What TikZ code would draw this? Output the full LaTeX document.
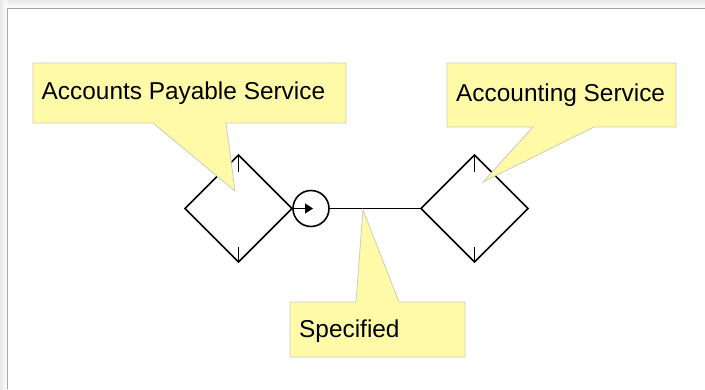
\documentclass[tikz,border=0pt]{standalone}
\usepackage{fontspec}
\setmainfont{Liberation Sans}
\usetikzlibrary{arrows.meta}
\definecolor{callfill}{RGB}{255,250,168}
\definecolor{callline}{RGB}{205,205,185}
\definecolor{pageline}{RGB}{165,165,165}
\tikzset{
  callout/.style={fill=callfill, draw=callline, line width=0.8pt, line join=miter},
  calltext/.style={anchor=base west, inner sep=0pt, font=\fontsize{24.4}{27}\selectfont},
  shape line/.style={line width=1.6pt, black},
}
\begin{document}
\begin{tikzpicture}[x=1pt,y=-1pt]
\useasboundingbox (0,0) rectangle (705,389);
% page background / shadow
\fill[white] (0,0) rectangle (705,389);
\shade[top color=gray!18, bottom color=white] (0,0) rectangle (705,8);
\shade[left color=gray!18, right color=white] (0,0) rectangle (7,389);
\draw[pageline, line width=1.6pt] (7.5,389) -- (7.5,8.5) -- (705,8.5);

% left diamond
\coordinate (Lt) at (238.5,155);
\coordinate (Lb) at (238.5,262);
\coordinate (Ll) at (185,208.5);
\coordinate (Lr) at (292,208.5);
\draw[shape line] (Lt) -- (Lr) -- (Lb) -- (Ll) -- cycle;
\coordinate (Lt2) at (238.5,172);
\coordinate (Lb2) at (238.5,247);
\draw[shape line] (Lt) -- (Lt2);
\draw[shape line] (Lb2) -- (Lb);

% right diamond
\coordinate (Rt) at (474.5,155);
\coordinate (Rb) at (474.5,262);
\coordinate (Rl) at (421,208.5);
\coordinate (Rr) at (528,208.5);
\draw[shape line] (Rt) -- (Rr) -- (Rb) -- (Rl) -- cycle;
\coordinate (Rt2) at (474.5,172);
\coordinate (Rb2) at (474.5,247);
\draw[shape line] (Rt) -- (Rt2);
\draw[shape line] (Rb2) -- (Rb);

% circle port
\node[draw, circle, line width=1.6pt, minimum size=36pt, inner sep=0pt] (port) at (311,208.5) {};
\coordinate (tip) at (313,208.5);
\draw[shape line, -{Triangle[length=8pt,width=10pt]}] (Lr) -- (tip);
\draw[shape line] (port.east) -- (Rl);

% callouts
\draw[callout] (33,63) -- (346,63) -- (346,123) -- (226,123) -- (235,191) -- (153,123) -- (33,123) -- cycle;
\node[calltext] (t1) at (41.5,99.5) {Accounts Payable Service};

\draw[callout] (447,63) -- (676,63) -- (676,127) -- (594,127) -- (483,182) -- (533,127) -- (447,127) -- cycle;
\node[calltext] (t2) at (456,101) {Accounting Service};

\draw[callout] (290,302) -- (356,302) -- (363,210) -- (399,302) -- (465,302) -- (465,357) -- (290,357) -- cycle;
\node[calltext] (t3) at (299,337) {Specified};
\end{tikzpicture}
\end{document}
